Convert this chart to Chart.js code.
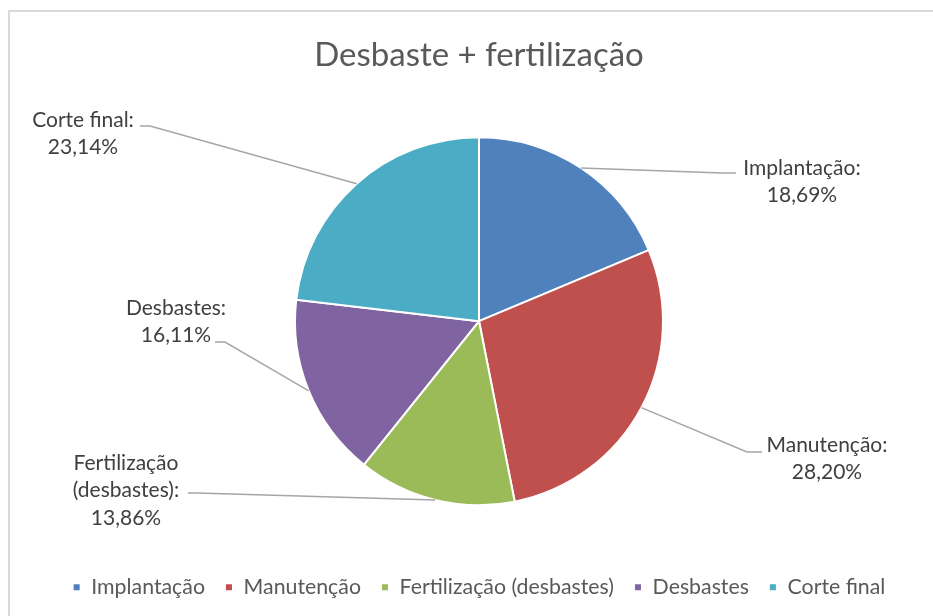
<!DOCTYPE html>
<html>
<head>
<meta charset="utf-8">
<script src="https://cdn.jsdelivr.net/npm/chart.js@4.4.1/dist/chart.umd.min.js"></script>
<style>
  html, body { margin: 0; padding: 0; background: #fff; overflow: hidden; }
  #frame { position: absolute; left: 8px; top: 10px; width: 1000px; height: 700px; border: 2px solid #d9d9d9; }
  #mycanvas { position: absolute; left: 0; top: 0; }
</style>
</head>
<body>
<div id="frame"></div>
<canvas id="mycanvas" width="933" height="616"></canvas>
<script>
const categories = ['Implantação', 'Manutenção', 'Fertilização (desbastes)', 'Desbastes', 'Corte final'];
const shares = [18.69, 28.20, 13.86, 16.11, 23.14];
const colors = ['#4F81BD', '#C0504D', '#9BBB59', '#8064A2', '#4BACC6'];

// where each outside label sits (text centre, leader line elbow and end)
const labelLayout = [
    { x: 802, y: 168, elbow: [722, 173], end: [736, 173], wrap: false },
    { x: 827, y: 445, elbow: [747, 452], end: [762, 452], wrap: false },
    { x: 126, y: 463, elbow: [197, 493], end: [188, 493], wrap: true },
    { x: 176, y: 308, elbow: [225, 342], end: [215, 342], wrap: false },
    { x: 83, y: 120, elbow: [150, 126], end: [140, 126], wrap: false }
];

const fontFamily = 'Lato, "Open Sans", sans-serif';

const outsideLabels = {
    id: 'outsideLabels',
    afterDatasetsDraw(chart) {
        const ctx = chart.ctx;
        const meta = chart.getDatasetMeta(0);
        const values = chart.data.datasets[0].data;
        ctx.save();
        meta.data.forEach((arc, i) => {
            const p = arc.getProps(['x', 'y', 'startAngle', 'endAngle', 'outerRadius'], true);
            const mid = (p.startAngle + p.endAngle) / 2;
            const ax = p.x + Math.cos(mid) * p.outerRadius;
            const ay = p.y + Math.sin(mid) * p.outerRadius;
            const lay = labelLayout[i];

            ctx.strokeStyle = '#A6A6A6';
            ctx.lineWidth = 1.5;
            ctx.beginPath();
            ctx.moveTo(ax, ay);
            ctx.lineTo(lay.elbow[0], lay.elbow[1]);
            ctx.lineTo(lay.end[0], lay.end[1]);
            ctx.stroke();

            let lines = lay.wrap ? chart.data.labels[i].split(' ') : [chart.data.labels[i]];
            lines[lines.length - 1] += ':';
            lines.push(values[i].toFixed(2).replace('.', ',') + '%');

            ctx.fillStyle = '#404040';
            ctx.font = '21px ' + fontFamily;
            ctx.textAlign = 'center';
            ctx.textBaseline = 'middle';
            lines.forEach((t, k) => ctx.fillText(t, lay.x, lay.y + k * 27.5));
        });
        ctx.restore();
    }
};

const mycanvas = document.getElementById('mycanvas').getContext('2d');
const chart = new Chart(mycanvas, {
    type: 'pie',
    data: {
        labels: categories,
        datasets: [
            {
                data: shares,
                backgroundColor: colors,
                borderColor: '#ffffff',
                borderWidth: 2,
                hoverOffset: 0
            }
        ]
    },
    options: {
        responsive: false,
        devicePixelRatio: 1,
        animation: false,
        events: [],
        radius: 184,
        layout: {
            padding: { left: 25, right: 0, top: 0, bottom: 8 }
        },
        plugins: {
            title: {
                display: true,
                text: 'Desbaste + fertilização',
                color: '#595959',
                font: { family: fontFamily, size: 33, weight: 'normal' },
                padding: { top: 36, bottom: 10 }
            },
            legend: {
                position: 'bottom',
                labels: {
                    color: '#595959',
                    font: { family: fontFamily, size: 21.3 },
                    boxWidth: 8,
                    boxHeight: 8,
                    padding: 20
                }
            },
            tooltip: { enabled: false }
        }
    },
    plugins: [outsideLabels]
});
</script>
</body>
</html>
